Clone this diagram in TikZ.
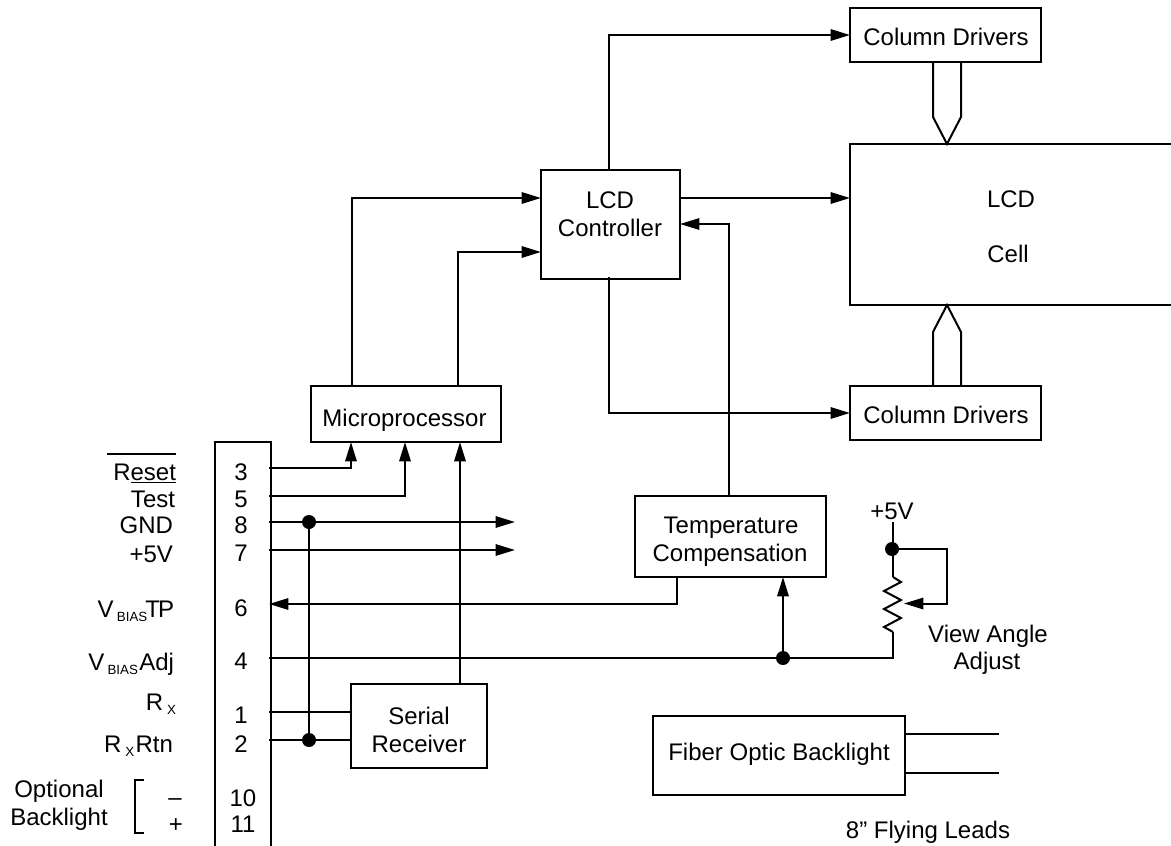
\documentclass[tikz,border=0pt]{standalone}
\usepackage{fontspec}
\setmainfont{Liberation Sans}
\usetikzlibrary{arrows.meta,calc}
\newcommand{\subs}[1]{{\fontsize{10}{10}\selectfont\raisebox{-3.2pt}{#1}}}
\tikzset{
  x=0.75pt,y=-0.75pt,
  every node/.style={font=\fontsize{18}{21}\selectfont,inner sep=0pt,outer sep=0pt},
  blk/.style={draw,line width=1.5pt,rectangle},
  wire/.style={line width=1.5pt},
  arr/.style={line width=1.5pt,-{Triangle[length=14.5pt,width=8.5pt]}},
  hollow/.style={line width=1.5pt,line join=miter},
  lbl/.style={anchor=base east},
  pin/.style={anchor=base},
  txt/.style={anchor=base},
  junction/.style={circle,fill=black,draw=none,minimum size=10.5pt}
}
\begin{document}
\begin{tikzpicture}
\useasboundingbox (0,0) rectangle (1171,846);
% blocks
\node[blk,minimum width=143.25pt,minimum height=40.5pt] (cdtop) at (945.5,35) {};
\node[txt] (cdtopt) at (946,45) {Column Drivers};
\node[blk,minimum width=143.25pt,minimum height=40.5pt] (cdbot) at (945.5,413) {};
\node[txt] (cdbott) at (946,423) {Column Drivers};
\node[blk,minimum width=104.25pt,minimum height=82pt] (ctrl) at (610.5,224.7) {};
\node[txt] (ctrla) at (610,208) {LCD};
\node[txt] (ctrlb) at (610,236) {Controller};
\node[blk,minimum width=142.5pt,minimum height=42pt] (micro) at (406,414) {};
\node[txt] (microt) at (404.5,426) {Microprocessor};
\node[blk,minimum width=143.25pt,minimum height=60.75pt] (temp) at (730.5,536.5) {};
\node[txt] (tempa) at (731,533) {Temperature};
\node[txt] (tempb) at (730,561) {Compensation};
\node[blk,minimum width=102pt,minimum height=63pt] (serial) at (419,726) {};
\node[txt] (seriala) at (419,724) {Serial};
\node[txt] (serialb) at (419,752) {Receiver};
\node[blk,minimum width=189pt,minimum height=59.25pt] (fiber) at (779,755.5) {};
\node[txt] (fibert) at (779,760) {Fiber Optic Backlight};
% LCD cell, cut by the page edge
\coordinate (cellNW) at (850,144);
\coordinate (cellSW) at (850,305);
\coordinate (cellL1) at (850,198);
\draw[wire] (1171,144) -- (cellNW) -- (cellSW) -- (1171,305);
\node[txt] (lcd) at (1011,207) {LCD};
\node[txt] (cell) at (1008,262) {Cell};
% connector body, open at the page bottom
\coordinate (connNW) at (215,442);
\coordinate (connNE) at (271,442);
\draw[wire] (215,846) -- (connNW) -- (connNE) -- (271,846);
% pin numbers
\node[pin] (n3) at (241,480) {3};
\node[pin] (n5) at (241,507) {5};
\node[pin] (n8) at (241,533) {8};
\node[pin] (n7) at (241,561) {7};
\node[pin] (n6) at (241,616) {6};
\node[pin] (n4) at (241,669) {4};
\node[pin] (n1) at (241,723) {1};
\node[pin] (n2) at (241,752) {2};
\node[pin] (n10) at (243,806) {10};
\node[pin] (n11) at (243,832) {11};
% pin stubs
\coordinate (p3) at (269,468);
\coordinate (p5) at (269,496);
\coordinate (p8) at (269,522);
\coordinate (p7) at (269,550);
\coordinate (p6) at (269,604);
\coordinate (p4) at (269,658);
\coordinate (p1) at (269,712);
\coordinate (p2) at (269,740);
% left labels
\node[lbl] (lreset) at (176,480) {R\underline{eset}};
\draw[wire] (107,454) -- (176,454);
\node[lbl] (ltest) at (175,507) {Test};
\node[lbl] (lgnd) at (173,533) {GND};
\node[lbl] (lfive) at (173,562) {+5V};
\node[lbl] (lvtp) at (174,617) {V\hspace{2.5pt}\subs{BIAS}\kern-1.5pt T\kern-1.5pt P};
\node[lbl] (lvadj) at (174,670) {V\hspace{2.5pt}\subs{BIAS}\kern1pt Adj};
\node[lbl] (lrx) at (176,710) {R\,\subs{X}};
\node[lbl] (lrxr) at (173,752) {R\,\subs{X}\kern1pt Rtn};
\node[txt] (lopt) at (59,797) {Optional};
\node[txt] (lback) at (59,825) {Backlight};
\node[txt] (lminus) at (175,805) {–};
\node[txt] (lplus) at (176,832) {+};
\draw[wire] (143.5,780) -- (135,780) -- (135,833) -- (143.5,833);
% junctions
\node[junction] (j8) at (309,522) {};
\node[junction] (j2) at (309,740) {};
\node[junction] (j4) at (783,658) {};
\node[junction] (j5) at (892,549) {};
% free ends and corners
\coordinate (e8) at (515,522);
\coordinate (e7) at (515,550);
\coordinate (r4) at (893,658);
\coordinate (rt) at (893,577);
\coordinate (rb) at (893,632);
\coordinate (wiper) at (904,603.5);
% connectors
\draw[arr] (p3) -| (351,442);
\draw[arr] (p5) -| (405,442);
\draw[arr] (p8) -- (e8);
\draw[arr] (p7) -- (e7);
\draw[wire] (j8) -- (j2);
\draw[wire] (p1) -- (p1 -| serial.west);
\draw[wire] (p2) -- (p2 -| serial.west);
\draw[arr] (677,577) |- (p6);
\draw[wire] (p4) -- (r4) -- (rb);
\draw[arr] (j4) -- (783,577);
\draw[arr] (460,684) -- (460,442);
\draw[arr] (352,386) |- (ctrl.west |- 0,198);
\draw[arr] (458,386) |- (ctrl.west |- 0,252);
\draw[arr] (609,170) |- (cdtop.west);
\draw[arr] (680,198) -- (cellL1);
\draw[arr] (609,277) |- (cdbot.west);
\draw[arr] (729,496) |- (ctrl.east |- 0,224);
% hollow bus arrows
\draw[hollow] (933,62) -- (933,117) -- (947,144) -- (961,117) -- (961,62);
\draw[hollow] (933,386) -- (933,332) -- (947,305) -- (961,332) -- (961,386);
% potentiometer
\node[txt] (vplus) at (892,519) {+5V};
\draw[wire] (893,522) -- (rt);
\draw[wire,line join=miter] (rt) -- (901,582) -- (884,591) -- (901,600) -- (884,609) -- (901,618) -- (884,627) -- (rb);
\draw[arr] (j5) -| (946.5,603.5) -- (wiper);
\node[txt] (va1) at (988,642) {View Angle};
\node[txt] (va2) at (987,669) {Adjust};
% flying leads
\draw[wire] (fiber.east |- 0,734) -- (999,734);
\draw[wire] (fiber.east |- 0,773) -- (999,773);
\node[txt] (leads) at (928,838) {8” Flying Leads};
\end{tikzpicture}
\end{document}
